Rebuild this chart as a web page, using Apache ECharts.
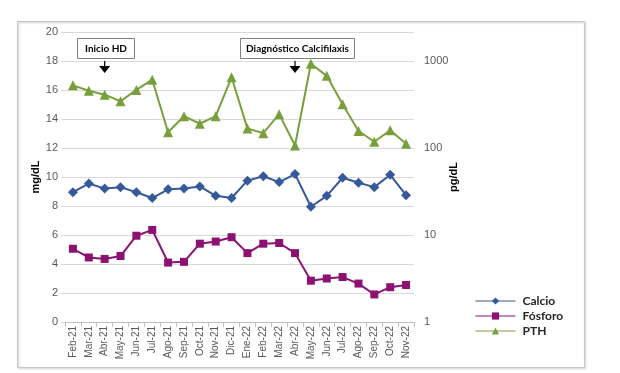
<!DOCTYPE html>
<html>
<head>
<meta charset="utf-8">
<script src="https://cdn.jsdelivr.net/npm/echarts@6/dist/echarts.min.js"></script>
<style>
html,body{margin:0;padding:0;background:#fff;}
#c{width:620px;height:373px;}
</style>
</head>
<body>
<div id="c"></div>
<script>
const categories = ['Feb-21','Mar-21','Abr-21','May-21','Jun-21','Jul-21','Ago-21','Sep-21','Oct-21','Nov-21','Dic-21','Ene-22','Feb-22','Mar-22','Abr-22','May-22','Jun-22','Jul-22','Ago-22','Sep-22','Oct-22','Nov-22'];
const calcio = [8.95,9.55,9.2,9.3,8.95,8.55,9.15,9.2,9.35,8.7,8.55,9.75,10.05,9.65,10.2,7.95,8.7,9.95,9.6,9.3,10.15,8.75];
const fosforo = [5.05,4.45,4.35,4.55,5.95,6.35,4.1,4.15,5.4,5.55,5.85,4.75,5.4,5.45,4.75,2.85,3.0,3.1,2.65,1.9,2.4,2.55];
const pth = [525,455,410,345,465,610,152,232,190,232,650,168,148,245,107,930,675,318,157,118,160,112];
const leftTicks = {min:0, max:20, interval:2};
const rightLabels = [1,10,100,1000];
const annotations = [{cat:'Abr-21', text:'Inicio HD'},{cat:'Abr-22', text:'Diagnóstico Calcifilaxis'}];

const chart = echarts.init(document.getElementById('c'), null, {renderer:'canvas'});
const axisLabelStyle = {color:'#595959', fontFamily:'Liberation Sans', fontSize:11};
const option = {
  animation:false,
  backgroundColor:'#fff',
  grid:{left:65, right:206, top:32, bottom:51},
  legend:{
    orient:'vertical', left:470, top:290, itemGap:3, itemWidth:40, itemHeight:9,
    lineStyle:{width:1},
    textStyle:{fontFamily:'Lato', fontSize:12, color:'#262626', fontWeight:'bold', padding:[0,0,0,2]},
    data:['Calcio','Fósforo','PTH']
  },
  xAxis:{
    type:'category', data:categories, boundaryGap:true,
    axisLine:{lineStyle:{color:'#bfbfbf'}},
    axisTick:{show:true, length:5, alignWithLabel:false, lineStyle:{color:'#bfbfbf'}},
    axisLabel:Object.assign({rotate:90, margin:4, interval:0}, axisLabelStyle, {fontSize:10})
  },
  yAxis:[{
    type:'value', min:leftTicks.min, max:leftTicks.max, interval:leftTicks.interval,
    name:'mg/dL', nameLocation:'middle', nameGap:24, nameRotate:90, nameMoveOverlap:false,
    nameTextStyle:{fontFamily:'Liberation Sans', fontWeight:'bold', fontSize:11, color:'#000'},
    axisLine:{show:false},
    axisTick:{show:true, length:4, lineStyle:{color:'#d9d9d9'}},
    axisLabel:Object.assign({margin:7}, axisLabelStyle),
    splitLine:{lineStyle:{color:'#d9d9d9'}}
  },{
    type:'log', logBase:10, min:1, max:Math.pow(10, 10/3),
    name:'pg/dL', nameLocation:'middle', nameGap:34, nameRotate:90, nameMoveOverlap:false,
    nameTextStyle:{fontFamily:'Liberation Sans', fontWeight:'bold', fontSize:11, color:'#000'},
    axisLine:{show:false},
    axisTick:{show:false},
    splitLine:{show:false},
    axisLabel:Object.assign({margin:10, showMaxLabel:false, formatter:function(v){return rightLabels.indexOf(Math.round(v))>=0?String(Math.round(v)):'';}}, axisLabelStyle)
  }],
  series:[{
    name:'Calcio', type:'line', data:calcio, yAxisIndex:0,
    symbol:'diamond', symbolSize:10, color:'#35599A',
    lineStyle:{width:2, color:'#35599A'}, itemStyle:{color:'#35599A'}
  },{
    name:'Fósforo', type:'line', data:fosforo, yAxisIndex:0,
    symbol:'rect', symbolSize:8, color:'#8B1273',
    lineStyle:{width:2, color:'#8B1273'}, itemStyle:{color:'#8B1273'}
  },{
    name:'PTH', type:'line', data:pth, yAxisIndex:1,
    symbol:'triangle', symbolSize:10, color:'#77A03C',
    lineStyle:{width:2, color:'#77A03C'}, itemStyle:{color:'#77A03C'}
  }]
};
chart.setOption(option);

const g = [{
  type:'rect', shape:{x:17.5, y:21.5, width:567, height:346}, silent:true, z:-10,
  style:{fill:'none', stroke:'#c8c8c8', lineWidth:1, shadowBlur:2, shadowColor:'rgba(0,0,0,0.25)', shadowOffsetX:1, shadowOffsetY:1}
}];
const boxes = [{w:57, offset:-28}, {w:114, offset:-55}];
annotations.forEach(function(a, i){
  const px = chart.convertToPixel({xAxisIndex:0}, a.cat);
  const bx = Math.round(px + boxes[i].offset) + 0.5;
  g.push({type:'rect', shape:{x:bx, y:38.5, width:boxes[i].w, height:20}, style:{fill:'#fff', stroke:'#808080', lineWidth:1}, z:100});
  g.push({type:'text', x:bx + boxes[i].w/2, y:48.5, style:{text:a.text, fill:'#000', font:'bold 10px Lato', textAlign:'center', textVerticalAlign:'middle'}, z:101});
  g.push({type:'line', shape:{x1:px, y1:61, x2:px, y2:67}, style:{stroke:'#000', lineWidth:1.2}, z:100});
  g.push({type:'polygon', shape:{points:[[px-5.5,66],[px+5.5,66],[px,73]]}, style:{fill:'#000'}, z:100});
});
chart.setOption({graphic:g});
</script>
</body>
</html>
